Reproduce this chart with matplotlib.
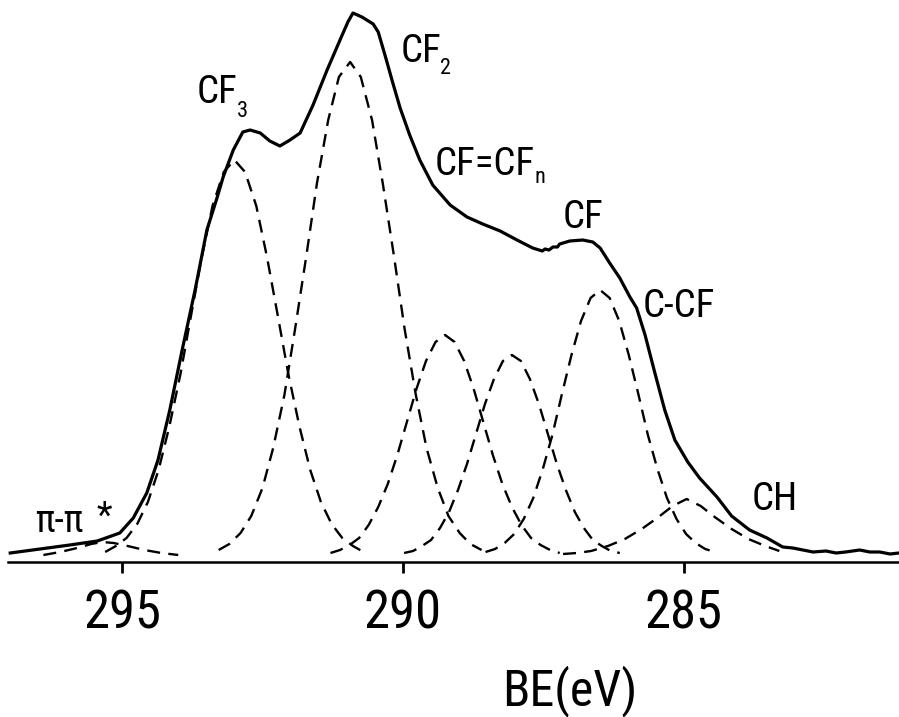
import matplotlib
matplotlib.use("Agg")
import matplotlib.pyplot as plt
from matplotlib import font_manager
from matplotlib.font_manager import FontProperties

# C1s spectrum (BE in eV, intensity in a.u.)
spec_be = [296.99, 296.46, 295.93, 295.44, 295.04, 294.80, 294.56, 294.36, 294.15,
           293.93, 293.70, 293.49, 293.31, 293.20, 293.02, 292.85, 292.72, 292.54,
           292.37, 292.19, 292.10, 292.01, 291.83, 291.60, 291.35, 291.12, 290.98,
           290.89, 290.73, 290.53, 290.44, 290.32, 290.18, 290.05, 289.88, 289.70,
           289.47, 289.16, 288.86, 288.58, 288.27, 287.97, 287.69, 287.52, 287.47,
           287.40, 287.33, 287.25, 287.21, 287.03, 286.80, 286.62, 286.49, 286.32,
           286.14, 285.96, 285.84, 285.69, 285.52, 285.34, 285.16, 284.93, 284.72,
           284.41, 284.15, 283.83, 283.52, 283.24, 283.06, 282.88, 282.70, 282.47,
           282.29, 282.12, 281.87, 281.69, 281.51, 281.33, 281.17]
spec_int = [9, 13, 17, 21, 29, 44, 69, 102, 152,
            212, 272, 332, 364, 385, 412, 430, 432, 429,
            421, 416, 419, 422, 429, 457, 492, 522, 540,
            549, 545, 538, 530, 507, 479, 454, 427, 402,
            377, 357, 345, 338, 331, 322, 314, 311, 313,
            312, 315, 315, 318, 321, 322, 320, 314, 299,
            284, 265, 254, 227, 190, 152, 122, 100, 84,
            65, 46, 32, 24, 15, 14, 12, 10, 11,
            9, 10, 12, 10, 10, 8, 9]

# fitted components (dashed curves)
pi_be = [296.40, 296.10, 295.80, 295.55, 295.35, 295.15, 294.90, 294.60, 294.30, 294.00]
pi_int = [7, 10, 14, 18, 20, 19, 16, 12, 9, 7]

cf3_be = [295.30, 295.11, 294.92, 294.73, 294.54, 294.35, 294.16, 293.96, 293.77, 293.58,
          293.39, 293.19, 293.00, 292.81, 292.61, 292.42, 292.23, 292.04, 291.84, 291.65,
          291.46, 291.27, 291.08, 290.89, 290.70]
cf3_int = [10, 16, 24, 38, 60, 92, 135, 188, 247, 305, 356, 390, 402,
           390, 356, 305, 247, 188, 135, 92, 60, 38, 24, 16, 10]

cf2_be = [293.28, 293.09, 292.89, 292.70, 292.50, 292.31, 292.11, 291.92, 291.72, 291.53,
          291.33, 291.14, 290.94, 290.75, 290.55, 290.36, 290.16, 289.97, 289.77, 289.58,
          289.38, 289.19, 288.99, 288.80, 288.60]
cf2_int = [12, 18, 29, 46, 74, 114, 167, 233, 306, 379, 442, 485, 500,
           485, 442, 379, 306, 233, 167, 114, 74, 46, 29, 18, 12]

cfn_be = [291.29, 291.12, 290.95, 290.78, 290.61, 290.44, 290.27, 290.10, 289.93, 289.76,
          289.59, 289.42, 289.25, 289.08, 288.91, 288.74, 288.57, 288.40, 288.23, 288.06,
          287.89, 287.72, 287.55, 287.38, 287.21]
cfn_int = [9, 12, 17, 24, 37, 55, 78, 107, 140, 173, 201, 220, 227,
           220, 201, 173, 140, 107, 78, 55, 37, 24, 17, 12, 9]

cf_be = [289.98, 289.82, 289.66, 289.50, 289.34, 289.18, 289.02, 288.86, 288.70, 288.54,
         288.38, 288.22, 288.06, 287.90, 287.74, 287.58, 287.42, 287.26, 287.10, 286.94,
         286.78, 286.62, 286.46, 286.30, 286.14]
cf_int = [9, 11, 16, 22, 34, 50, 72, 98, 128, 158, 183, 201, 207,
          201, 183, 158, 128, 98, 72, 50, 34, 22, 16, 11, 9]

ccf_be = [288.53, 288.36, 288.19, 288.02, 287.85, 287.68, 287.51, 287.34, 287.17, 287.00,
          286.83, 286.66, 286.49, 286.32, 286.15, 285.98, 285.81, 285.64, 285.47, 285.30,
          285.13, 284.96, 284.79, 284.62, 284.45]
ccf_int = [10, 13, 19, 28, 43, 64, 93, 127, 168, 207, 241, 264, 272,
           264, 241, 207, 168, 127, 93, 64, 43, 28, 19, 13, 10]

ch_be = [287.15, 286.90, 286.65, 286.35, 286.05, 285.75, 285.45, 285.20, 284.95,
         284.70, 284.45, 284.15, 283.85, 283.55, 283.30]
ch_int = [8, 9, 11, 16, 23, 33, 45, 56, 63, 56, 45, 33, 23, 16, 11]

components = [(pi_be, pi_int), (cf3_be, cf3_int), (cf2_be, cf2_int), (cfn_be, cfn_int),
              (cf_be, cf_int), (ccf_be, ccf_int), (ch_be, ch_int)]

tick_vals = [295, 290, 285]


def pick_font():
    prefs = ["Roboto Condensed", "Liberation Sans Narrow", "Open Sans Condensed",
             "Noto Sans", "DejaVu Sans", "Open Sans", "Roboto", "Lato", "Inter"]
    found = {}
    for f in font_manager.fontManager.ttflist:
        low = f.fname.lower()
        narrow = ("condensed" in str(f.stretch) or "condensed" in low or "narrow" in low)
        if not narrow or f.style != "normal" or "bold" in low or "italic" in low:
            continue
        if f.weight not in (300, 400, "normal", "light", "regular"):
            continue
        found.setdefault(f.name, f.fname)
    for p in prefs:
        if p in found:
            return found[p], 1.0
    return None, 0.8


font_file, scale = pick_font()


def fp(size):
    if font_file:
        return FontProperties(fname=font_file, size=size * scale)
    return FontProperties(family="DejaVu Sans", size=size * scale)


def generate_plot():
    fig = plt.figure(figsize=(8.99, 7.17), dpi=100)
    ax = fig.add_axes([8 / 899, 155 / 717, 891 / 899, 557 / 717])

    for be, inten in components:
        ax.plot(be, inten, color="black", lw=1.7, dashes=(5.5, 3.5))
    ax.plot(spec_be, spec_int, color="black", lw=2.3)

    ax.set_xlim(297.03, 281.17)
    ax.set_ylim(0, 557)

    for s in ["top", "left", "right"]:
        ax.spines[s].set_visible(False)
    ax.spines["bottom"].set_linewidth(1.8)
    ax.set_yticks([])
    ax.set_xticks(tick_vals)
    ax.set_xticklabels([str(t) for t in tick_vals])
    ax.tick_params(axis="x", direction="out", length=8, width=2, pad=11)
    for lbl in ax.get_xticklabels():
        lbl.set_fontproperties(fp(38))

    ax.set_xlabel("BE(eV)", fontproperties=fp(36))
    ax.xaxis.set_label_coords(0.631, -0.186)

    # peak labels with subscripts
    big, small = 28, 16
    ax.text(293.67, 459, "CF", fontproperties=fp(big))
    ax.text(292.95, 445, "3", fontproperties=fp(small))
    ax.text(290.05, 500, "CF", fontproperties=fp(big))
    ax.text(289.34, 488, "2", fontproperties=fp(small))
    ax.text(289.43, 387, "CF=CF", fontproperties=fp(big))
    ax.text(287.66, 379, "n", fontproperties=fp(small))
    ax.text(287.15, 334, "CF", fontproperties=fp(big))
    ax.text(285.73, 245, "C-CF", fontproperties=fp(big))
    ax.text(283.79, 52, "CH", fontproperties=fp(big))
    ax.text(296.55, 30, "π-π", fontproperties=fp(27))
    ax.text(295.46, 35, "*", fontproperties=fp(26))

    fig.savefig("out.png", dpi=100)


def main():
    generate_plot()


if __name__ == "__main__":
    main()
